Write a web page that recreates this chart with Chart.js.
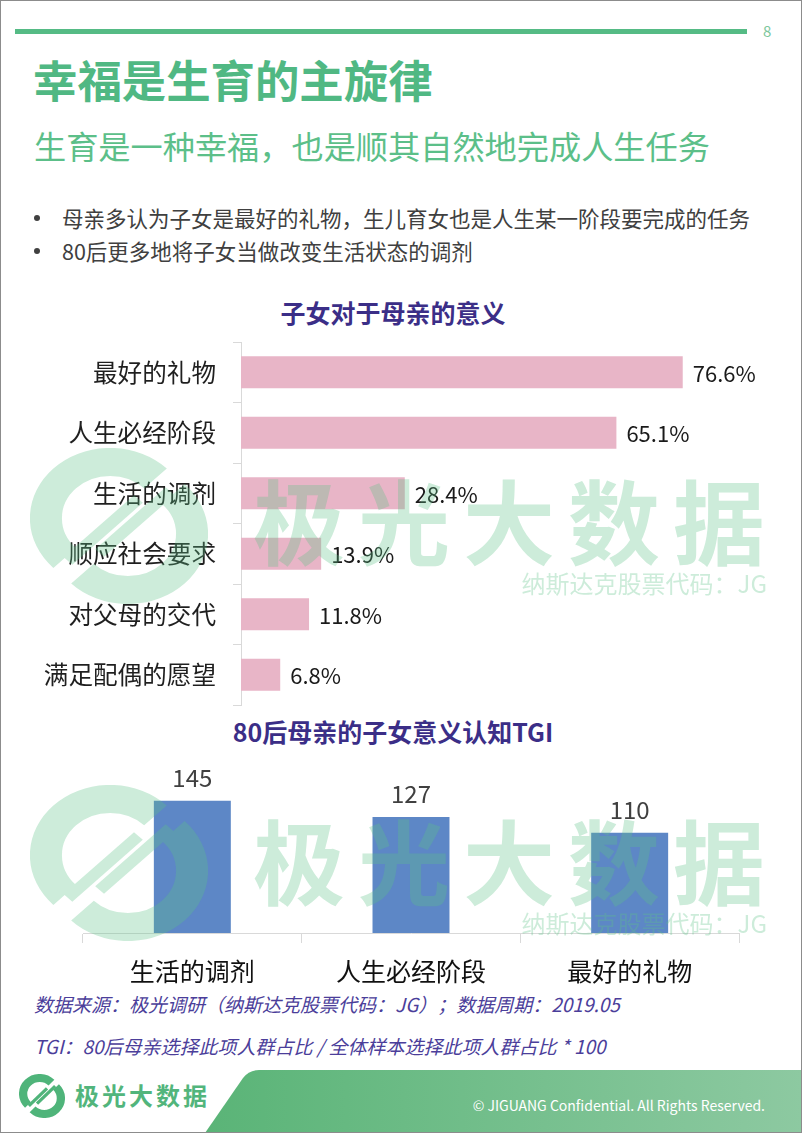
<!DOCTYPE html>
<html>
<head>
<meta charset="utf-8">
<script src="https://cdn.jsdelivr.net/npm/chart.js@4"></script>
<style>
  html, body { margin:0; padding:0; background:#fff; }
  body { width:802px; height:1133px; position:relative; overflow:hidden; font-family:"Noto Sans CJK SC","Noto Sans",sans-serif; }
  .abs { position:absolute; white-space:nowrap; }
  #frame { position:absolute; left:0; top:0; width:800px; height:1131px; border:1px solid #8c8c8c; pointer-events:none; z-index:20; }
  #topline { left:15px; top:29px; width:732px; height:5px; background:#55bb85; }
  #pagenum { left:763px; top:20px; font-size:15px; color:#7cc79c; }
  #title { left:33px; top:51px; font-size:44.4px; font-weight:700; color:#50b883; line-height:56px; }
  #subtitle { left:34px; top:125px; font-size:32.2px; color:#5cbf89; line-height:40px; }
  .bullet { left:62px; font-size:21.5px; color:#404040; line-height:30px; }
  .dot { position:absolute; left:34px; width:6px; height:6px; border-radius:3px; background:#404040; }
  .ctitle { left:0; width:786px; text-align:center; font-size:25px; font-weight:700; color:#3b2e87; line-height:30px; }
  .src { left:34px; font-size:19px; font-style:italic; color:#4b3e9a; line-height:24px; }
  canvas { position:absolute; }
  .wm { position:absolute; pointer-events:none; z-index:10; opacity:0.31; color:rgb(93,194,135); white-space:nowrap; }
  .wmbig { font-size:92px; font-weight:700; letter-spacing:13px; line-height:1; }
  .wmsmall { font-size:24px; line-height:1; text-align:right; width:300px; }
  #foottext { left:465px; top:1095px; width:300px; text-align:right; font-size:14px; color:#fff; line-height:20px; }
  #footlogo { left:75px; top:1078px; font-size:24px; font-weight:700; letter-spacing:3px; color:#52b57c; line-height:34px; }
</style>
</head>
<body>
<div id="frame"></div>
<div class="abs" id="topline"></div>
<div class="abs" id="pagenum">8</div>
<div class="abs" id="title">幸福是生育的主旋律</div>
<div class="abs" id="subtitle">生育是一种幸福，也是顺其自然地完成人生任务</div>
<div class="dot" style="top:215px;"></div>
<div class="abs bullet" style="top:203px;">母亲多认为子女是最好的礼物，生儿育女也是人生某一阶段要完成的任务</div>
<div class="dot" style="top:248px;"></div>
<div class="abs bullet" style="top:236px;">80后更多地将子女当做改变生活状态的调剂</div>
<div class="abs ctitle" style="top:297px;">子女对于母亲的意义</div>
<div class="abs ctitle" style="top:716px;">80后母亲的子女意义认知TGI</div>

<canvas id="c1" width="802" height="380" style="left:0;top:330px;"></canvas>
<canvas id="c2" width="802" height="240" style="left:0;top:750px;"></canvas>

<div class="abs src" style="top:992px;">数据来源：极光调研（纳斯达克股票代码：JG）；数据周期：2019.05</div>
<div class="abs src" style="top:1034px;">TGI：80后母亲选择此项人群占比 / 全体样本选择此项人群占比 * 100</div>

<!-- watermarks -->
<svg class="wm" style="left:30px;top:448px;" width="178" height="156" viewBox="0 0 100 100" preserveAspectRatio="none">
  <g fill="none" stroke="rgb(93,194,135)">
    <path d="M 70.5 19.5 A 36 36 0 0 0 19.5 70.5" stroke-width="18"/>
    <path d="M 29.5 80.5 A 36 36 0 0 0 80.5 29.5" stroke-width="18"/>
    <line x1="21.3" y1="72.3" x2="60.9" y2="32.7" stroke-width="7"/>
    <line x1="39.1" y1="67.3" x2="78.7" y2="27.7" stroke-width="7"/>
  </g>
</svg>
<svg class="wm" style="left:30px;top:785px;" width="178" height="156" viewBox="0 0 100 100" preserveAspectRatio="none">
  <g fill="none" stroke="rgb(93,194,135)">
    <path d="M 70.5 19.5 A 36 36 0 0 0 19.5 70.5" stroke-width="18"/>
    <path d="M 29.5 80.5 A 36 36 0 0 0 80.5 29.5" stroke-width="18"/>
    <line x1="21.3" y1="72.3" x2="60.9" y2="32.7" stroke-width="7"/>
    <line x1="39.1" y1="67.3" x2="78.7" y2="27.7" stroke-width="7"/>
  </g>
</svg>
<div class="wm wmbig" style="left:253px;top:472px;">极光大数据</div>
<div class="wm wmsmall" style="left:467px;top:571px;">纳斯达克股票代码：JG</div>
<div class="wm wmbig" style="left:253px;top:812px;">极光大数据</div>
<div class="wm wmsmall" style="left:467px;top:911px;">纳斯达克股票代码：JG</div>

<!-- footer -->
<svg class="abs" style="left:0;top:1060px;" width="802" height="73" viewBox="0 1060 802 73">
  <defs>
    <linearGradient id="fg" x1="0" y1="0" x2="1" y2="0">
      <stop offset="0" stop-color="#5ab477"/>
      <stop offset="1" stop-color="#8dc9a1"/>
    </linearGradient>
  </defs>
  <path d="M 205 1133 L 243 1078 Q 249 1070 259 1070 L 802 1070 L 802 1133 Z" fill="url(#fg)"/>
</svg>
<svg class="abs" style="left:19px;top:1074px;" width="46" height="44" viewBox="0 0 100 100" preserveAspectRatio="none">
  <g fill="none" stroke="#4fb47a">
    <path d="M 70.5 19.5 A 36 36 0 0 0 19.5 70.5" stroke-width="18"/>
    <path d="M 29.5 80.5 A 36 36 0 0 0 80.5 29.5" stroke-width="18"/>
    <line x1="21.3" y1="72.3" x2="60.9" y2="32.7" stroke-width="7"/>
    <line x1="39.1" y1="67.3" x2="78.7" y2="27.7" stroke-width="7"/>
  </g>
</svg>
<div class="abs" id="footlogo">极光大数据</div>
<div class="abs" id="foottext">© JIGUANG Confidential. All Rights Reserved.</div>

<script>
const meaningCategories = ['最好的礼物', '人生必经阶段', '生活的调剂', '顺应社会要求', '对父母的交代', '满足配偶的愿望'];
const meaningValues = [76.6, 65.1, 28.4, 13.9, 11.8, 6.8];
const tgiCategories = ['生活的调剂', '人生必经阶段', '最好的礼物'];
const tgiValues = [145, 127, 110];

const FONT = '"Noto Sans CJK SC", "Noto Sans", sans-serif';

const valueLabels = {
  id: 'valueLabels',
  afterDatasetsDraw(chart, args, opts) {
    const ctx = chart.ctx;
    const meta = chart.getDatasetMeta(0);
    const data = chart.data.datasets[0].data;
    ctx.save();
    ctx.font = opts.size + 'px ' + FONT;
    ctx.fillStyle = opts.color;
    meta.data.forEach((el, i) => {
      const txt = opts.format(data[i]);
      if (opts.horizontal) {
        ctx.textAlign = 'left';
        ctx.textBaseline = 'middle';
        ctx.fillText(txt, el.x + opts.offset, el.y + 1);
      } else {
        ctx.textAlign = 'center';
        ctx.textBaseline = 'bottom';
        ctx.fillText(txt, el.x, el.y - opts.offset);
      }
    });
    ctx.restore();
  }
};

new Chart(document.getElementById('c1'), {
  type: 'bar',
  data: {
    labels: meaningCategories,
    datasets: [{
      data: meaningValues,
      backgroundColor: '#e8b5c7',
      barPercentage: 0.53,
      categoryPercentage: 1
    }]
  },
  options: {
    indexAxis: 'y',
    responsive: false,
    animation: false,
    devicePixelRatio: 1,
    layout: { padding: { top: 12, bottom: 5, left: 0, right: 42 } },
    scales: {
      x: { display: false, min: 0, max: 90 },
      y: {
        afterFit(scale) { scale.width = 241; scale.paddingTop = 0; scale.paddingBottom = 0; },
        grid: { offset: true, drawOnChartArea: false, tickLength: 8, color: '#d9d9d9' },
        border: { color: '#d9d9d9' },
        ticks: { padding: 17, color: '#1f1f1f', font: { size: 24.6, family: FONT } }
      }
    },
    plugins: {
      legend: { display: false },
      tooltip: { enabled: false },
      valueLabels: { horizontal: true, offset: 10, size: 22, color: '#1a1a1a', format: v => v.toFixed(1) + '%' }
    }
  },
  plugins: [valueLabels]
});

new Chart(document.getElementById('c2'), {
  type: 'bar',
  data: {
    labels: tgiCategories,
    datasets: [{
      data: tgiValues,
      backgroundColor: '#5d87c6',
      barPercentage: 0.352,
      categoryPercentage: 1
    }]
  },
  options: {
    responsive: false,
    animation: false,
    devicePixelRatio: 1,
    layout: { padding: { top: 37, bottom: 0, left: 83, right: 63 } },
    scales: {
      y: { display: false, min: 0, max: 160 },
      x: {
        afterFit(scale) { scale.height = 57; },
        grid: { offset: true, drawOnChartArea: false, tickLength: 10, color: '#d9d9d9' },
        border: { color: '#d9d9d9' },
        ticks: { padding: 13, color: '#111111', font: { size: 25, family: FONT } }
      }
    },
    plugins: {
      legend: { display: false },
      tooltip: { enabled: false },
      valueLabels: { horizontal: false, offset: 11, size: 24, color: '#404040', format: v => String(v) }
    }
  },
  plugins: [valueLabels]
});
</script>
</body>
</html>
